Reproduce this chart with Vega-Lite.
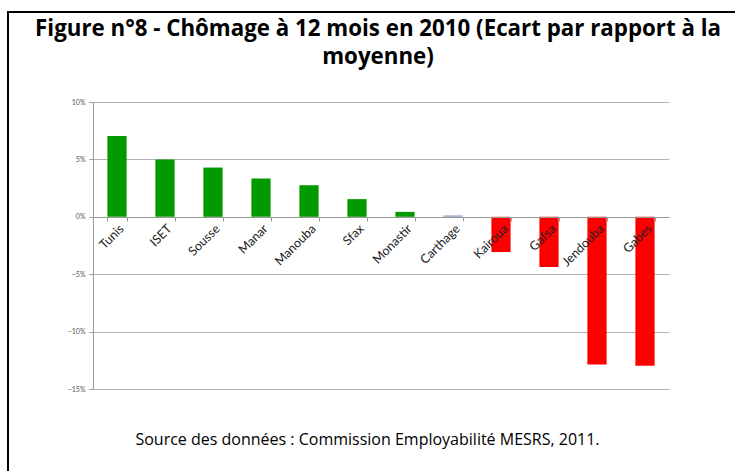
{
  "$schema": "https://vega.github.io/schema/vega-lite/v6.json",
  "width": 747,
  "height": 479,
  "autosize": {"type": "none"},
  "padding": {"left": 8, "top": 12, "right": -20, "bottom": -20},
  "background": "white",
  "config": {
    "view": {"stroke": "black", "strokeWidth": 2},
    "font": "Lato"
  },
  "title": {
    "text": ["Figure n°8 - Chômage à 12 mois en 2010 (Ecart par rapport à la", "moyenne)"],
    "font": "Open Sans",
    "fontSize": 22.3,
    "fontWeight": "bold",
    "color": "black",
    "anchor": "middle",
    "frame": "group",
    "baseline": "alphabetic",
    "offset": -24,
    "dy": 50,
    "lineHeight": 27.5,
    "dx": -3.5
  },
  "data": {
    "values": [
      {"filiere": "Tunis", "ecart": 0.0704, "statut": "au-dessus"},
      {"filiere": "ISET", "ecart": 0.05, "statut": "au-dessus"},
      {"filiere": "Sousse", "ecart": 0.0429, "statut": "au-dessus"},
      {"filiere": "Manar", "ecart": 0.0333, "statut": "au-dessus"},
      {"filiere": "Manouba", "ecart": 0.0275, "statut": "au-dessus"},
      {"filiere": "Sfax", "ecart": 0.0154, "statut": "au-dessus"},
      {"filiere": "Monastir", "ecart": 0.0043, "statut": "au-dessus"},
      {"filiere": "Carthage", "ecart": 0.0012, "statut": "moyenne"},
      {"filiere": "Kairoua", "ecart": -0.0307, "statut": "en dessous"},
      {"filiere": "Gafsa", "ecart": -0.0438, "statut": "en dessous"},
      {"filiere": "Jendouba", "ecart": -0.1287, "statut": "en dessous"},
      {"filiere": "Gabes", "ecart": -0.1298, "statut": "en dessous"}
    ]
  },
  "mark": {"type": "bar"},
  "encoding": {
    "x": {
      "field": "filiere",
      "type": "nominal",
      "sort": null,
      "scale": {"range": [85, 661], "paddingInner": 0.6, "paddingOuter": 0.3},
      "axis": {
        "orient": "bottom",
        "offset": -274,
        "labelAngle": -45,
        "labelAlign": "right",
        "labelBaseline": "top",
        "labelFontSize": 12.5,
        "labelColor": "#222",
        "labelPadding": 1,
        "tickSize": 4,
        "tickColor": "#999",
        "domainColor": "#999",
        "tickBand": "extent",
        "grid": false,
        "zindex": 1,
        "title": "Source des données : Commission Employabilité MESRS, 2011.",
        "titleFont": "Open Sans",
        "titleFontSize": 16,
        "titleFontWeight": "normal",
        "titleColor": "black",
        "titleX": 359,
        "titleY": 227,
        "titleAlign": "center",
        "titleBaseline": "alphabetic"
      }
    },
    "y": {
      "field": "ecart",
      "type": "quantitative",
      "scale": {"domain": [-0.15, 0.1], "range": [377, 90], "nice": false, "zero": false},
      "axis": {
        "offset": -85,
        "values": [-0.15, -0.1, -0.05, 0, 0.05, 0.1],
        "format": ".0%",
        "grid": true,
        "gridColor": "#b3b3b3",
        "domainColor": "#999",
        "tickColor": "#999",
        "tickSize": 4,
        "labelFontSize": 7,
        "labelColor": "#555",
        "labelPadding": 4,
        "title": null
      }
    },
    "color": {
      "field": "statut",
      "type": "nominal",
      "scale": {"domain": ["au-dessus", "moyenne", "en dessous"], "range": ["#009900", "#8fa3c0", "#ff0000"]},
      "legend": null
    }
  }
}
